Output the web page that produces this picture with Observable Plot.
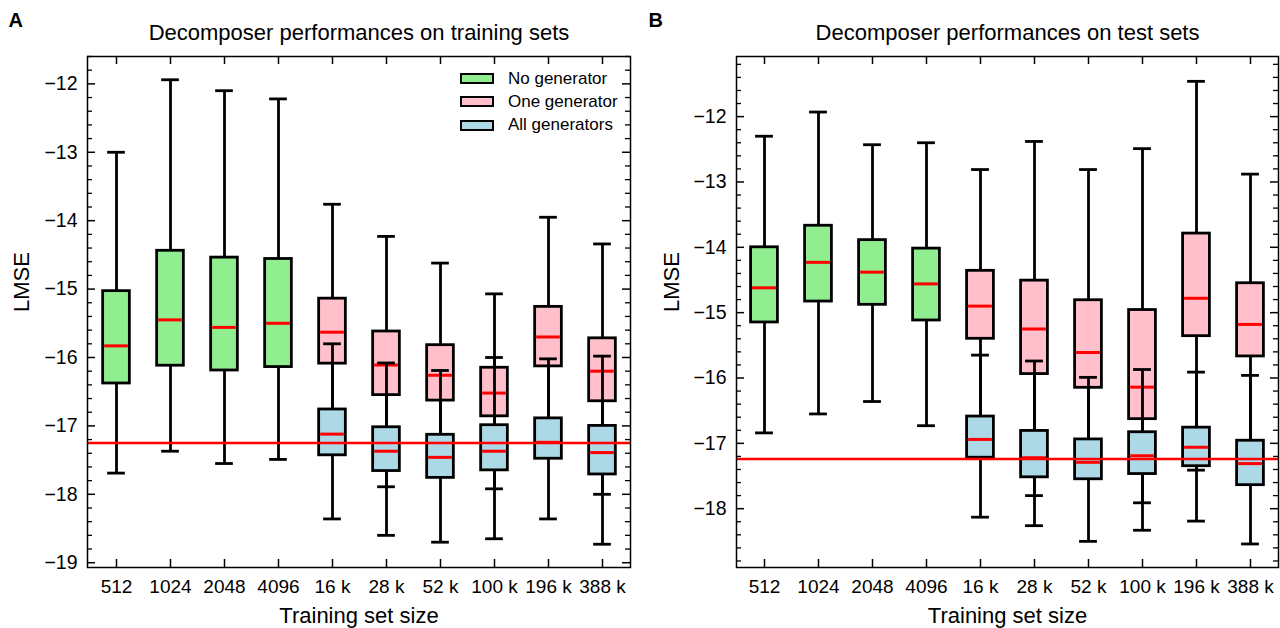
<!DOCTYPE html>
<html>
<head>
<meta charset="utf-8">
<script src="https://cdn.jsdelivr.net/npm/d3@7"></script>
<script src="https://cdn.jsdelivr.net/npm/@observablehq/plot@0.6"></script>
<style>
  html, body { margin: 0; padding: 0; background: #fff; }
  #fig { position: relative; width: 1280px; height: 628px; background: #fff;
         font-family: "Liberation Sans", Arial, Helvetica, sans-serif; overflow: hidden; }
  #panelA, #panelB { position: absolute; top: 0; }
  #panelA { left: 0; }
  #panelB { left: 640px; }
  .legend { position: absolute; left: 460px; top: 67px; font-size: 17px; color: #000; }
  .legend .row { display: flex; align-items: center; height: 23.3px; }
  .legend .sw { width: 34px; height: 11px; box-sizing: border-box; border: 2.5px solid #000; margin-right: 14px; }
</style>
</head>
<body>
<div id="fig">
  <div id="panelA"></div>
  <div id="panelB"></div>
  <div class="legend" id="legend"></div>
</div>
<script>
// ---------------- data ----------------
const sizes = ["512", "1024", "2048", "4096", "16 k", "28 k", "52 k", "100 k", "196 k", "388 k"];
const smallSizes = ["512", "1024", "2048", "4096"];
const largeSizes = ["16 k", "28 k", "52 k", "100 k", "196 k", "388 k"];
const seriesNames = ["No generator", "One generator", "All generators"];
const seriesColors = ["#90ee90", "#ffc0cb", "#add8e6"];

// each row: [lower whisker, Q1, median, Q3, upper whisker]  (LMSE)
const trainNoGen = [
  [-17.69, -16.38, -15.83, -15.03, -13.00],
  [-17.37, -16.12, -15.45, -14.44, -11.94],
  [-17.55, -16.19, -15.56, -14.54, -12.10],
  [-17.49, -16.14, -15.50, -14.56, -12.22]
];
const trainOneGen = [
  [-17.10, -16.09, -15.63, -15.14, -13.76],
  [-17.89, -16.55, -16.11, -15.62, -14.23],
  [-17.50, -16.63, -16.26, -15.82, -14.62],
  [-17.92, -16.86, -16.52, -16.15, -15.07],
  [-17.20, -16.13, -15.70, -15.26, -13.95],
  [-18.00, -16.64, -16.20, -15.72, -14.34]
];
const trainAllGen = [
  [-18.36, -17.43, -17.12, -16.76, -15.80],
  [-18.60, -17.66, -17.37, -17.02, -16.08],
  [-18.70, -17.76, -17.46, -17.13, -16.19],
  [-18.65, -17.65, -17.37, -16.99, -16.00],
  [-18.36, -17.48, -17.24, -16.89, -16.02],
  [-18.73, -17.71, -17.39, -17.00, -15.98]
];
const testNoGen = [
  [-16.84, -15.15, -14.62, -14.00, -12.30],
  [-16.55, -14.83, -14.23, -13.67, -11.93],
  [-16.36, -14.88, -14.38, -13.89, -12.43],
  [-16.73, -15.12, -14.56, -14.02, -12.40]
];
const testOneGen = [
  [-16.90, -15.40, -14.90, -14.36, -12.81],
  [-17.80, -15.94, -15.25, -14.51, -12.38],
  [-17.20, -16.15, -15.61, -14.81, -12.81],
  [-17.91, -16.63, -16.14, -14.96, -12.49],
  [-17.41, -15.36, -14.78, -13.79, -11.46],
  [-17.30, -15.67, -15.18, -14.55, -12.88]
];
const testAllGen = [
  [-18.13, -17.22, -16.94, -16.59, -15.65],
  [-18.26, -17.52, -17.22, -16.81, -15.74],
  [-18.50, -17.55, -17.29, -16.94, -15.99],
  [-18.33, -17.47, -17.19, -16.83, -15.87],
  [-18.19, -17.35, -17.06, -16.76, -15.91],
  [-18.54, -17.64, -17.31, -16.96, -15.96]
];
const refTrain = -17.25;
const refTest = -17.24;

const yTicksTrain = [-19, -18, -17, -16, -15, -14, -13, -12];
const yTicksTest = [-18, -17, -16, -15, -14, -13, -12];
const yDomainTrain = [-19.07, -11.6];
const yDomainTest = [-18.9, -11.08];

const titleTrain = "Decomposer performances on training sets";
const titleTest = "Decomposer performances on test sets";
const xLabel = "Training set size";
const yLabel = "LMSE";

// ---------------- helpers ----------------
function toRows(cats, stats) {
  return stats.map((s, i) => ({ size: cats[i], lo: s[0], q1: s[1], med: s[2], q3: s[3], hi: s[4] }));
}
function minorTicks(domain) {
  const out = [];
  for (let i = Math.ceil(domain[0] * 5); i <= Math.floor(domain[1] * 5); i++) {
    if (i % 5 !== 0) out.push(i / 5);
  }
  return out;
}

const FONT = '"Liberation Sans", Arial, Helvetica, sans-serif';
const W = 640, H = 628, MT = 56, MB = 61;
const intFormat = d3.format("d");
const LW = 2.8;

function boxMarks(rows, color, band) {
  const boxInset = (band - 27) / 2;
  const capInset = (band - 18) / 2;
  return [
    Plot.ruleX(rows, { x: "size", y1: "lo", y2: "q1", stroke: "black", strokeWidth: LW }),
    Plot.ruleX(rows, { x: "size", y1: "q3", y2: "hi", stroke: "black", strokeWidth: LW }),
    Plot.tickY(rows, { x: "size", y: "lo", stroke: "black", strokeWidth: LW, insetLeft: capInset, insetRight: capInset }),
    Plot.tickY(rows, { x: "size", y: "hi", stroke: "black", strokeWidth: LW, insetLeft: capInset, insetRight: capInset }),
    Plot.barY(rows, { x: "size", y1: "q1", y2: "q3", fill: color, stroke: "black", strokeWidth: LW, insetLeft: boxInset, insetRight: boxInset }),
    Plot.tickY(rows, { x: "size", y: "med", stroke: "red", strokeWidth: 3, insetLeft: boxInset + 1.5, insetRight: boxInset + 1.5 })
  ];
}

function panel({ ml, mr, yDomain, yTicks, noGen, oneGen, allGen, ref, title, letter, ylabX }) {
  const fw = W - ml - mr;
  const fh = H - MT - MB;
  const band = fw / sizes.length;
  const minors = minorTicks(yDomain);
  return Plot.plot({
    width: W, height: H,
    marginLeft: ml, marginRight: mr, marginTop: MT, marginBottom: MB,
    style: { fontFamily: FONT, fontSize: "19px", background: "transparent", color: "black", overflow: "visible" },
    x: { type: "band", domain: sizes, padding: 0 },
    y: { domain: yDomain },
    marks: [
      ...boxMarks(toRows(smallSizes, noGen), seriesColors[0], band),
      ...boxMarks(toRows(largeSizes, oneGen), seriesColors[1], band),
      ...boxMarks(toRows(largeSizes, allGen), seriesColors[2], band),
      Plot.ruleY([ref], { y: d => d, stroke: "red", strokeWidth: 2.5 }),
      // inward ticks
      Plot.ruleY(yTicks, { y: d => d, insetRight: fw - 8, stroke: "black", strokeWidth: 1.5 }),
      Plot.ruleY(minors, { y: d => d, insetRight: fw - 5, stroke: "black", strokeWidth: 1.3 }),
      Plot.ruleY(yTicks, { y: d => d, insetLeft: fw - 8, stroke: "black", strokeWidth: 1.5 }),
      Plot.ruleY(minors, { y: d => d, insetLeft: fw - 5, stroke: "black", strokeWidth: 1.3 }),
      Plot.ruleX(sizes, { x: d => d, insetBottom: fh - 8, stroke: "black", strokeWidth: 1.5 }),
      Plot.ruleX(sizes, { x: d => d, insetTop: fh - 8, stroke: "black", strokeWidth: 1.5 }),
      Plot.frame({ stroke: "black", strokeWidth: 1.5 }),
      Plot.axisY(yTicks, { tickSize: 0, tickPadding: 10, label: null, fontSize: 19.5, tickFormat: intFormat }),
      Plot.axisX({ tickSize: 0, tickPadding: 12, label: null, fontSize: 19 }),
      Plot.text([title], { text: d => d, frameAnchor: "top", lineAnchor: "middle", dy: -24, fontSize: 22 }),
      Plot.text([xLabel], { text: d => d, frameAnchor: "bottom", lineAnchor: "middle", dy: 48, fontSize: 22 }),
      Plot.text([yLabel], { text: d => d, frameAnchor: "left", lineAnchor: "middle", rotate: -90, dx: -(ml - ylabX), fontSize: 22 }),
      Plot.text([letter], { text: d => d, frameAnchor: "top-left", textAnchor: "start", lineAnchor: "middle", dx: -(ml - 8), dy: -36, fontSize: 20, fontWeight: "bold" })
    ]
  });
}

document.getElementById("panelA").append(panel({
  ml: 87, mr: 10, yDomain: yDomainTrain, yTicks: yTicksTrain,
  noGen: trainNoGen, oneGen: trainOneGen, allGen: trainAllGen, ref: refTrain,
  title: titleTrain, letter: "A", ylabX: 21
}));
document.getElementById("panelB").append(panel({
  ml: 96, mr: 2, yDomain: yDomainTest, yTicks: yTicksTest,
  noGen: testNoGen, oneGen: testOneGen, allGen: testAllGen, ref: refTest,
  title: titleTest, letter: "B", ylabX: 31
}));

// legend (inside panel A, top-right)
const legend = document.getElementById("legend");
seriesNames.forEach((name, i) => {
  const row = document.createElement("div");
  row.className = "row";
  const sw = document.createElement("span");
  sw.className = "sw";
  sw.style.background = seriesColors[i];
  const label = document.createElement("span");
  label.textContent = name;
  row.append(sw, label);
  legend.append(row);
});
</script>
</body>
</html>
